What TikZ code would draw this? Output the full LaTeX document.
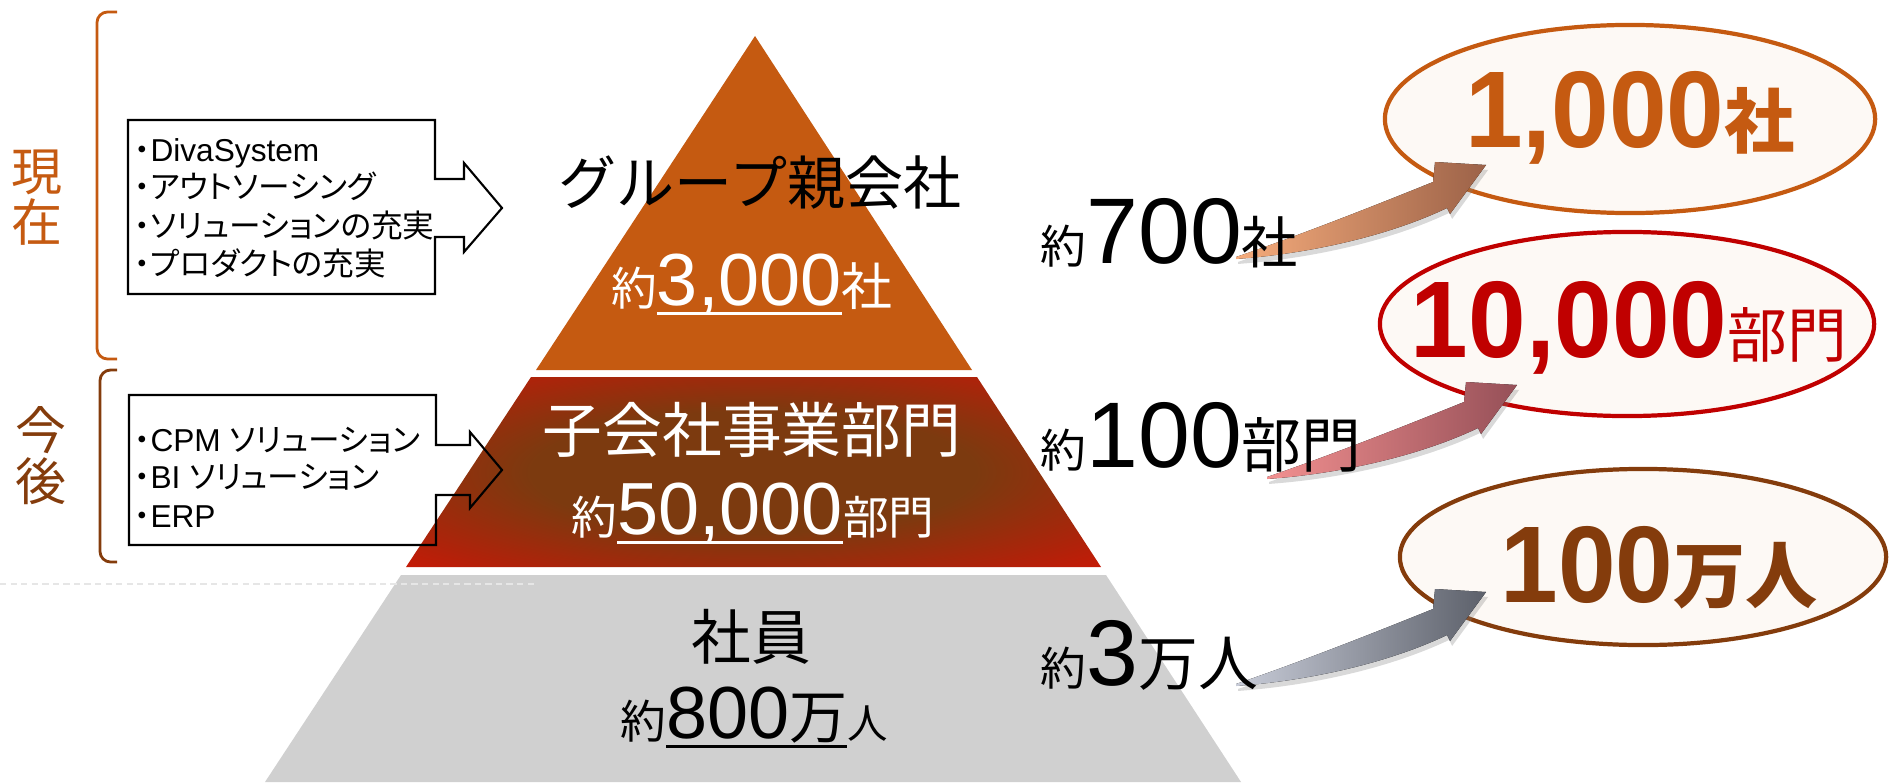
\documentclass[tikz,border=0pt]{standalone}
\usepackage{fontspec}
\setmainfont{Liberation Sans}
\newfontfamily\jp[RawFeature=+palt]{Noto Sans CJK JP}
\newfontfamily\jpw{Noto Sans CJK JP}
\newfontfamily\numb[FakeStretch=0.95]{Liberation Sans}
\usetikzlibrary{shapes.geometric}
\usetikzlibrary{shadows}
\definecolor{topband}{HTML}{C55A11}
\definecolor{midin}{HTML}{7C3A0F}
\definecolor{midedge}{HTML}{B0220A}
\definecolor{midout}{HTML}{D81404}
\definecolor{lowband}{HTML}{D0D0D0}
\definecolor{nowcol}{HTML}{C55A11}
\definecolor{futcol}{HTML}{843C0C}
\definecolor{goalred}{HTML}{C00000}
\definecolor{ellfill}{HTML}{FDF9F5}
\definecolor{dashgray}{HTML}{E6E6E6}
\definecolor{arrOneL}{HTML}{F6AC7C}
\definecolor{arrOneR}{HTML}{9C6248}
\definecolor{arrTwoL}{HTML}{F29090}
\definecolor{arrTwoR}{HTML}{965058}
\definecolor{arrThrL}{HTML}{C8CCD8}
\definecolor{arrThrR}{HTML}{5C606A}
\pgfdeclareradialshading{midglow}{\pgfpoint{0bp}{0bp}}{color(0bp)=(midin); color(16bp)=(midin); color(30bp)=(midedge); color(40bp)=(midout); color(50bp)=(midout)}
\tikzstyle{callout}=[draw=black, line width=0.6pt]
\tikzstyle{item}=[inner sep=0pt, anchor=base west, font=\fontsize{9}{11}\selectfont]
\tikzstyle{era}=[inner sep=0pt, align=center, font=\jpw\fontsize{14.5}{14.5}\selectfont]
\tikzstyle{brace}=[line width=0.8pt, rounded corners=3pt]
\tikzstyle{tier}=[inner sep=0pt, anchor=base]
\tikzstyle{now}=[inner sep=0pt, anchor=base west]
\tikzstyle{goal}=[ellipse, fill=ellfill, line width=1.2pt, inner sep=0pt]
\tikzstyle{goaltxt}=[inner sep=0pt, anchor=base]
\newcommand{\yaku}{{\jpw\fontsize{13}{13}\selectfont 約}}
\newcommand{\uln}[1]{\setbox0\hbox{#1}\rlap{\rule[-2.8pt]{\wd0}{0.8pt}}\box0}
\newcommand{\bigd}{\fontsize{21}{21}\selectfont}
\newcommand{\hugd}{\fontsize{26.5}{26.5}\selectfont}
\newcommand{\goald}{\numb\bfseries\fontsize{31}{31}\selectfont}
\newcommand{\growarrow}[3]{%
  \fill[left color=#2, right color=#3, shift={(#1)},
        drop shadow={opacity=0.3, shadow xshift=0.6pt, shadow yshift=-1.4pt}]
    (0,0) .. controls (70,-24) and (150,-56) .. (197,-75) -- (199,-95) -- (250,-92)
    -- (214,-43) -- (211,-49) .. controls (150,-20) and (70,-3) .. (0,2) -- cycle;}

\begin{document}
\begin{tikzpicture}[x=0.01cm, y=-0.01cm]
		\useasboundingbox (0,0) rectangle (1889,782);
		%The pyramid
		\fill[topband] (755,36) -- (972,370) -- (536,370) -- cycle;
		\shade[shading=midglow] (531,377) -- (977,377) -- (1101,567) -- (406,567) -- cycle;
		\fill[lowband] (401,575) -- (1106,575) -- (1241,782) -- (265,782) -- cycle;
		\draw[dashgray, line width=0.6pt, dash pattern=on 1.8pt off 1.2pt] (0,584) -- (538,584);
		
		%The left side
		\node[era, text=nowcol] (now) at (37,198) {現\\在};
		\node[era, text=futcol] (later) at (41,456) {今\\後};
		\draw[brace, nowcol] (117,12) -- (97,12) -- (97,359) -- (117,359);
		\draw[brace, futcol] (117,370) -- (100,370) -- (100,562) -- (117,562);
		
		%The call-out boxes
		\draw[callout] (128,120) -- (435,120) -- (435,179) -- (464,179) -- (464,163) -- (502,208)
			-- (464,252) -- (464,237) -- (435,237) -- (435,294) -- (128,294) -- cycle;
		\draw[callout] (129,395) -- (436,395) -- (436,445) -- (470,445) -- (470,432) -- (502,470)
			-- (470,508) -- (470,495) -- (436,495) -- (436,545) -- (129,545) -- cycle;
		\node[item] (d1) at (134,162) {{\jp ・}DivaSystem};
		\node[item] (d2) at (134,199) {\jp ・アウトソーシング};
		\node[item] (d3) at (134,237) {\jp ・ソリューションの充実};
		\node[item] (d4) at (134,275) {\jp ・プロダクトの充実};
		\node[item] (f1) at (134,451) {{\jp ・}CPM {\jp ソリューション}};
		\node[item] (f2) at (134,488) {{\jp ・}BI {\jp ソリューション}};
		\node[item] (f3) at (134,527) {{\jp ・}ERP};
		
		%The tiers
		\node[tier, font=\jpw\fontsize{16.5}{16.5}\selectfont] (parent) at (760,205) {グループ親会社};
		\node[tier, text=white] (parentn) at (752,305) {\yaku{\bigd\uln{3,000}}{\jpw\fontsize{14.5}{14.5}\selectfont 社}};
		\node[tier, text=white, font=\jpw\fontsize{17}{17}\selectfont] (unit) at (752,452) {子会社事業部門};
		\node[tier, text=white] (unitn) at (753,534) {\yaku{\bigd\uln{50,000}}{\jpw\fontsize{13}{13}\selectfont 部門}};
		\node[tier, font=\jpw\fontsize{17}{17}\selectfont] (staff) at (751,659) {社員};
		\node[tier] (staffn) at (754,738) {\yaku\uln{{\bigd 800}{\jpw\fontsize{16.5}{16.5}\selectfont 万}}{\jpw\fontsize{11.5}{11.5}\selectfont 人}};
		
		%The goals
		\node[goal, draw=nowcol, minimum width=4.9cm, minimum height=1.88cm] (g1) at (1630,119) {};
		\node[goal, draw=goalred, minimum width=4.94cm, minimum height=1.84cm] (g2) at (1627,324) {};
		\node[goal, draw=futcol, minimum width=4.86cm, minimum height=1.76cm] (g3) at (1643,557) {};
		\node[goaltxt, text=nowcol] (t1) at (1630,147) {{\goald 1,000}{\jpw\bfseries\fontsize{20}{20}\selectfont 社}};
		\node[goaltxt, text=goalred] (t2) at (1629,357) {{\goald 10,000}{\jpw\fontsize{17}{17}\selectfont 部門}};
		\node[goaltxt, text=futcol] (t3) at (1659,602) {{\goald 100}{\jpw\bfseries\fontsize{20.5}{20.5}\selectfont 万人}};
		
		%The growth arrows
		\coordinate (a1) at (1236,257);
		\coordinate (a2) at (1267,477);
		\coordinate (a3) at (1236,684);
		\growarrow{a1}{arrOneL}{arrOneR}
		\growarrow{a2}{arrTwoL}{arrTwoR}
		\growarrow{a3}{arrThrL}{arrThrR}
		
		%The counts today
		\node[now] (c700) at (1040,263) {\yaku{\hugd 700}{\jpw\fontsize{16}{16}\selectfont 社}};
		\node[now] (c100) at (1040,467) {\yaku{\hugd 100}{\jpw\fontsize{17}{17}\selectfont 部門}};
		\node[now] (c3) at (1040,685) {\yaku{\hugd 3}{\jpw\fontsize{17}{17}\selectfont 万人}};
\end{tikzpicture}
\end{document}
